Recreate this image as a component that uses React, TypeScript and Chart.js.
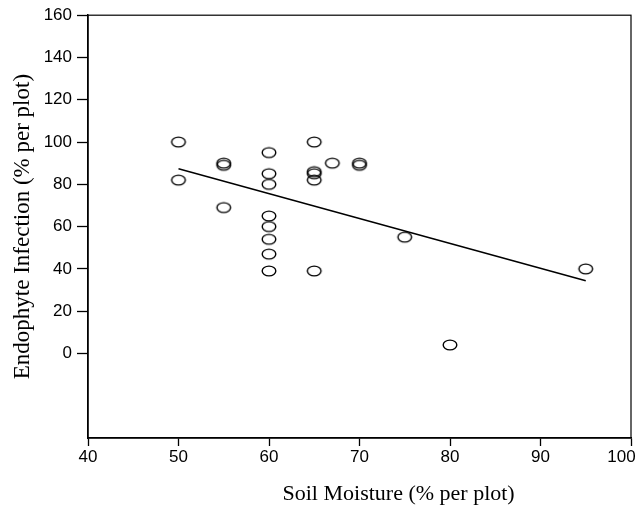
import React, { useEffect, useRef } from 'react';
import { Chart, registerables } from 'chart.js';

Chart.register(...registerables);

// Data
const soilMoisture = [50, 50, 55, 55, 55, 60, 60, 60, 60, 60, 60, 60, 60, 65, 65, 65, 65, 65, 67, 70, 70, 75, 80, 95];
const endophyteInfection = [100, 82, 90, 89, 69, 95, 85, 80, 65, 60, 54, 47, 39, 100, 86, 85, 82, 39, 90, 90, 89, 55, 4, 40];
const fitLineX = [50, 95];
const fitLineY = [87.4, 34.4];
const xTickValues = [40, 50, 60, 70, 80, 90, 100];
const yTickValues = [0, 20, 40, 60, 80, 100, 120, 140, 160];
const xTitle = 'Soil Moisture (% per plot)';
const yTitle = 'Endophyte Infection (% per plot)';

function makeEllipse(): HTMLCanvasElement {
  const c = document.createElement('canvas');
  c.width = 18;
  c.height = 14;
  const g = c.getContext('2d')!;
  g.strokeStyle = '#000';
  g.lineWidth = 1.4;
  g.beginPath();
  g.ellipse(9, 7, 6.8, 4.9, 0, 0, Math.PI * 2);
  g.stroke();
  return c;
}

const framePlugin = {
  id: 'frameAndTitle',
  afterDraw(chart: any) {
    const { ctx, chartArea } = chart;
    ctx.save();
    ctx.strokeStyle = '#000';
    ctx.lineWidth = 1.2;
    ctx.strokeRect(chartArea.left, chartArea.top, chartArea.right - chartArea.left, chartArea.bottom - chartArea.top);
    ctx.fillStyle = '#000';
    ctx.font = '22px "Liberation Serif", "Times New Roman", serif';
    ctx.textAlign = 'center';
    ctx.textBaseline = 'alphabetic';
    const cx = chartArea.left + (chartArea.right - chartArea.left) * 0.572;
    ctx.fillText(xTitle, cx, 500);
    ctx.restore();
  },
};

export default function App() {
  const ref = useRef<HTMLCanvasElement>(null);
  useEffect(() => {
    if (!ref.current) return;
    const marker = makeEllipse();
    const points = soilMoisture.map((x, i) => ({ x, y: endophyteInfection[i] }));
    const fit = fitLineX.map((x, i) => ({ x, y: fitLineY[i] }));
    const tickFont = { family: '"Liberation Sans", Arial, sans-serif', size: 17 };
    const chart = new Chart(ref.current, {
      type: 'scatter',
      data: {
        datasets: [
          {
            type: 'line',
            data: fit,
            borderColor: '#000',
            borderWidth: 1.5,
            pointRadius: 0,
            fill: false,
            tension: 0,
          } as any,
          {
            data: points,
            pointStyle: marker as any,
            pointRadius: 7,
            showLine: false,
          },
        ],
      },
      options: {
        responsive: false,
        animation: false,
        layout: { padding: { top: 14, right: 8, bottom: 0, left: 0 } },
        plugins: { legend: { display: false }, tooltip: { enabled: false } },
        scales: {
          x: {
            type: 'linear',
            min: 40,
            max: 100,
            afterBuildTicks(scale: any) {
              scale.ticks = xTickValues.map((v) => ({ value: v }));
            },
            afterFit(scale: any) {
              scale.height = 70;
              scale.paddingLeft = 0;
              scale.paddingRight = 0;
            },
            ticks: {
              color: '#000',
              font: tickFont,
              padding: 1,
              maxRotation: 0,
              autoSkip: false,
              callback: (v: any) => (v === 100 ? '100    ' : String(v)),
            },
            grid: {
              drawOnChartArea: false,
              drawTicks: true,
              tickLength: 8,
              tickWidth: 1.3,
              tickColor: '#000',
            },
            border: { display: true, color: '#000', width: 1.5 },
          },
          y: {
            type: 'linear',
            min: -40,
            max: 160,
            afterBuildTicks(scale: any) {
              scale.ticks = [-40, -20, ...yTickValues].map((v) => ({ value: v }));
            },
            afterFit(scale: any) {
              scale.width = 88;
            },
            ticks: {
              color: '#000',
              font: tickFont,
              padding: 5,
              autoSkip: false,
              callback: (v: any) => (v < 0 ? '' : String(v)),
            },
            grid: {
              drawOnChartArea: false,
              drawTicks: true,
              tickLength: 11,
              tickWidth: 1.3,
              tickColor: (c: any) => (c.tick && c.tick.value < 0 ? 'rgba(0,0,0,0)' : '#000'),
            },
            border: { display: true, color: '#000', width: 1.5 },
            title: {
              display: true,
              text: yTitle,
              color: '#000',
              font: { family: '"Liberation Serif", "Times New Roman", serif', size: 23 },
              padding: { top: 9, bottom: 0 },
            },
          },
        },
      },
      plugins: [framePlugin],
    });
    return () => chart.destroy();
  }, []);
  return (
    <div style={{ position: 'fixed', left: 0, top: 0, width: 639, height: 508, background: '#fff' }}>
      <canvas ref={ref} width={639} height={508} style={{ display: 'block' }} />
    </div>
  );
}
